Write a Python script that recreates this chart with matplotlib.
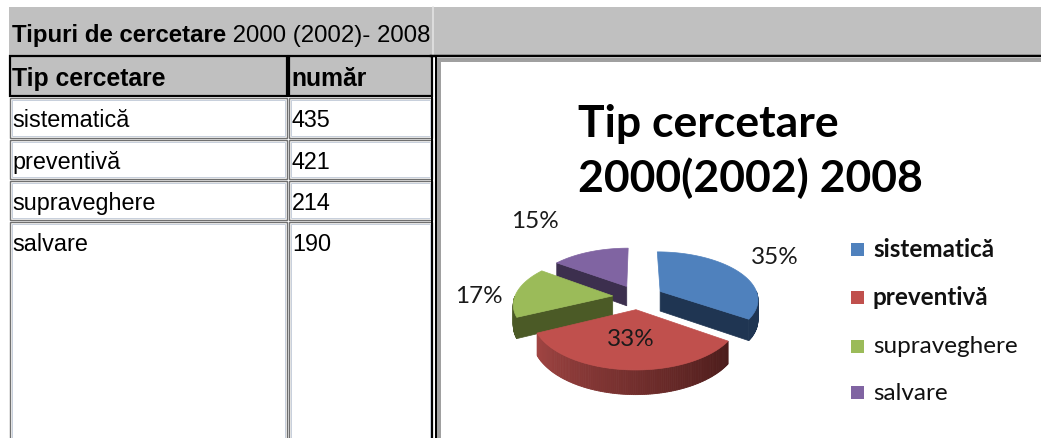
import numpy as np
import matplotlib
matplotlib.use("Agg")
import matplotlib.pyplot as plt
from matplotlib.patches import Rectangle, Polygon
from matplotlib.colors import to_rgb

# data
table_title = "Tipuri de cercetare"
table_years = " 2000 (2002)- 2008"
col_headers = ["Tip cercetare", "număr"]
categories = ["sistematică", "preventivă", "supraveghere", "salvare"]
counts = [435, 421, 214, 190]
title_lines = ["Tip cercetare", "2000(2002) 2008"]

top_colors = ["#4F81BD", "#C0504D", "#9BBB59", "#8064A2"]
side_colors = ["#1F3552", "#4A1B1A", "#4B5A26", "#3C2F4E"]
wall_left = ["#1F3552", "#A24543", "#4B5A26", "#3C2F4E"]
wall_right = ["#1F3552", "#4A1B1A", "#4B5A26", "#3C2F4E"]
label_r = [1.62, 0.53, 1.37, 2.29]
label_da = [4, 0, 5, 6.5]
legend_weight = ["bold", "bold", "normal", "normal"]

W, H = 1041, 439
fig = plt.figure(figsize=(W / 100, H / 100), dpi=100)
ax = fig.add_axes([0, 0, 1, 1])
ax.set_xlim(0, W)
ax.set_ylim(H, 0)
ax.axis("off")

PX = 0.72  # points per pixel

# ---- table side ----
ax.add_patch(Rectangle((9, 8), W, 48, facecolor="#C0C0C0", edgecolor="none"))
ax.plot([433, 433], [8, 56], color="#e6e6e6", lw=1.5 * PX)

t1 = ax.text(12, 42, table_title, fontsize=17.3, fontweight="bold",
             family="Liberation Sans", va="baseline")
ax.annotate(table_years, xy=(1, 0), xycoords=t1, va="bottom",
            fontsize=17.3, family="Liberation Sans")

col_x = [10, 289]
col_w = [277, 143]
for x, w, h in zip(col_x, col_w, col_headers):
    ax.add_patch(Rectangle((x, 57), w, 40, facecolor="#C0C0C0",
                           edgecolor="black", lw=2.2 * PX))
    ax.text(x + 2, 86, h, fontsize=17.8, fontweight="bold",
            family="Liberation Sans", va="baseline")

row_top = [99, 141, 182, 223]
row_h = [40, 39, 39, 230]
for i, (cat, n) in enumerate(zip(categories, counts)):
    for x, w in zip(col_x, col_w):
        ax.add_patch(Rectangle((x, row_top[i]), w, row_h[i], facecolor="white",
                               edgecolor="#707070", lw=1.4 * PX))
        ax.add_patch(Rectangle((x + 2, row_top[i] + 2), w - 4, row_h[i] - 4,
                               facecolor="none", edgecolor="#c8d0dc", lw=1 * PX))
    ax.text(12, row_top[i] + 28, cat, fontsize=16.8, family="Liberation Sans",
            va="baseline")
    ax.text(292, row_top[i] + 28, str(n), fontsize=16.8, family="Liberation Sans",
            va="baseline")

ax.plot([432, 432], [57, H], color="black", lw=2 * PX)
ax.plot([435.5, 435.5], [57, H], color="black", lw=2 * PX)
ax.plot([431, W], [57, 57], color="black", lw=2.5 * PX)

# ---- chart area ----
ax.add_patch(Rectangle((439, 61), 700, 400, facecolor="white",
                       edgecolor="#a0a0a0", lw=4 * PX))

for line, yb in zip(title_lines, [137, 192]):
    ax.text(578, yb, line, fontsize=32, fontweight="bold",
            family="Lato", va="baseline")

# 3d pie
cx, cy, rx, ry = 638, 298, 98, 47
depth, persp, expl = 20, 0.15, 0.26


def proj(u, v, z=0.0):
    s = 1.0 / (1.0 + persp * v)
    return cx + rx * u * s, cy - ry * v * s + depth * z * s


vals = np.array(counts, dtype=float)
fr = vals / vals.sum()
cum = np.concatenate([[0], np.cumsum(fr)])
a0 = 90 - 360 * cum[:-1]
a1 = 90 - 360 * cum[1:]
mid = (a0 + a1) / 2
ox = expl * np.cos(np.radians(mid))
oy = expl * np.sin(np.radians(mid))

order = np.argsort(-oy)
for i in order:
    ts = np.linspace(a0[i], a1[i], 120)
    tr = np.radians(ts)
    us = ox[i] + np.cos(tr)
    vs = oy[i] + np.sin(tr)

    # radial faces that face the viewer
    for edge, vis in ((a0[i], np.cos(np.radians(a0[i])) < -1e-6),
                      (a1[i], np.cos(np.radians(a1[i])) > 1e-6)):
        if not vis:
            continue
        e = np.radians(edge)
        pts = [proj(ox[i], oy[i], 0), proj(ox[i] + np.cos(e), oy[i] + np.sin(e), 0),
               proj(ox[i] + np.cos(e), oy[i] + np.sin(e), 1), proj(ox[i], oy[i], 1)]
        ax.add_patch(Polygon(pts, closed=True, facecolor=side_colors[i],
                             edgecolor=side_colors[i], lw=0.5))

    # outer wall, front half only, shaded left -> right
    cl, cr = np.array(to_rgb(wall_left[i])), np.array(to_rgb(wall_right[i]))
    for k in range(len(ts) - 1):
        tm = np.radians((ts[k] + ts[k + 1]) / 2)
        if np.sin(tm) >= 0:
            continue
        f = (ts[k] - a1[i]) / (a0[i] - a1[i])  # 0 at left edge, 1 at right
        col = cl * (1 - f) + cr * f
        pts = [proj(us[k], vs[k], 0), proj(us[k + 1], vs[k + 1], 0),
               proj(us[k + 1], vs[k + 1], 1), proj(us[k], vs[k], 1)]
        ax.add_patch(Polygon(pts, closed=True, facecolor=col, edgecolor=col, lw=0.6))

    # top face
    top = [proj(ox[i], oy[i])] + [proj(u, v) for u, v in zip(us, vs)]
    ax.add_patch(Polygon(top, closed=True, facecolor=top_colors[i],
                         edgecolor=top_colors[i], lw=0.5))

    # percentage label
    m = np.radians(mid[i] + label_da[i])
    lx, ly = proj(ox[i] + label_r[i] * np.cos(m), oy[i] + label_r[i] * np.sin(m))
    ax.text(lx, ly, f"{fr[i] * 100:.0f}%", fontsize=17.5, family="Lato",
            color="#1a1a1a", ha="center", va="center")

# legend
leg_y = [250, 298, 347, 394]
for i, cat in enumerate(categories):
    ax.add_patch(Rectangle((851, leg_y[i] - 6.5), 13, 13, facecolor=top_colors[i],
                           edgecolor="none"))
    ax.text(873, leg_y[i], cat, fontsize=17.5, family="Lato", color="#111111",
            fontweight=legend_weight[i], va="center")

fig.savefig("out.png", dpi=100)
